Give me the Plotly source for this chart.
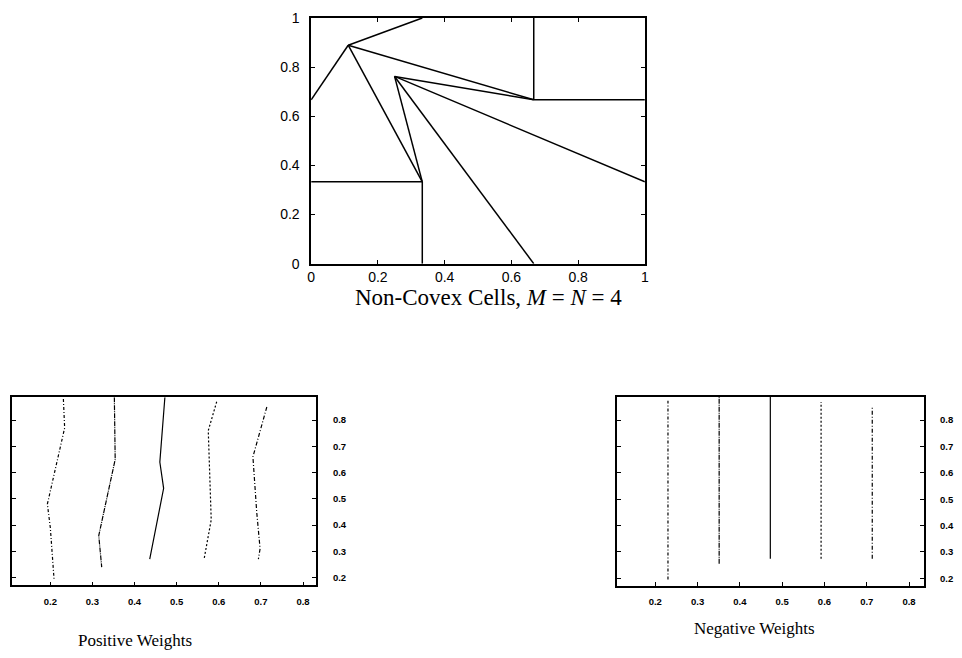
import plotly.graph_objects as go

# ---------------- data ----------------
# Top panel: cell boundary vertices and edges
vert_x = {"a": 0.0, "b": 0.111, "c": 0.333, "d": 0.667, "e": 0.333, "f": 0.25,
          "g": 0.667, "h": 1.0, "i": 0.667, "j": 1.0, "k": 0.0, "l": 0.333}
vert_y = {"a": 0.667, "b": 0.889, "c": 1.0, "d": 0.667, "e": 0.333, "f": 0.762,
          "g": 0.0, "h": 0.333, "i": 1.0, "j": 0.667, "k": 0.333, "l": 0.0}
edges = [("a", "b"), ("b", "c"), ("b", "d"), ("b", "e"), ("f", "d"), ("f", "e"),
         ("f", "g"), ("f", "h"), ("i", "d"), ("d", "j"), ("k", "e"), ("e", "l")]

top_ticks = [0, 0.2, 0.4, 0.6, 0.8, 1]

# Bottom-left: positive weights curves
pos_x = [
    [0.231, 0.234, 0.193, 0.200, 0.209],
    [0.352, 0.354, 0.315, 0.322],
    [0.472, 0.460, 0.469, 0.436],
    [0.595, 0.575, 0.582, 0.565],
    [0.714, 0.681, 0.690, 0.698, 0.694],
]
pos_y = [
    [0.880, 0.770, 0.480, 0.390, 0.190],
    [0.887, 0.650, 0.360, 0.240],
    [0.887, 0.640, 0.540, 0.270],
    [0.870, 0.760, 0.420, 0.270],
    [0.850, 0.660, 0.450, 0.310, 0.270],
]

# Bottom-right: negative weights lines
neg_x = [0.230, 0.351, 0.472, 0.592, 0.713]
neg_top = [0.873, 0.887, 0.887, 0.868, 0.850]
neg_bottom = [0.196, 0.255, 0.274, 0.274, 0.274]

small_ticks = [0.2, 0.3, 0.4, 0.5, 0.6, 0.7, 0.8]
line_dashes = ["3px,2px,1px,2px", "5px,1px,1px,1px", "solid", "2px,2px", "4px,2px,1px,2px"]

# ---------------- figure ----------------
OFF = 8  # default page margin of the html body
W, H = 962 - 2 * OFF, 658 - 2 * OFF
fig = go.Figure()

# Top panel
tx, ty = [], []
for p, q in edges:
    tx += [vert_x[p], vert_x[q], None]
    ty += [vert_y[p], vert_y[q], None]
fig.add_trace(go.Scatter(x=tx, y=ty, mode="lines", line=dict(color="black", width=1.5),
                         xaxis="x", yaxis="y", showlegend=False, hoverinfo="skip"))

# Bottom-left
for xs, ys, dsh in zip(pos_x, pos_y, line_dashes):
    fig.add_trace(go.Scatter(x=xs, y=ys, mode="lines",
                             line=dict(color="black", width=1.2, dash=dsh),
                             xaxis="x2", yaxis="y2", showlegend=False, hoverinfo="skip"))

# Bottom-right
for xv, yt, yb, dsh in zip(neg_x, neg_top, neg_bottom, line_dashes):
    fig.add_trace(go.Scatter(x=[xv, xv], y=[yb, yt], mode="lines",
                             line=dict(color="black", width=1.2, dash=dsh),
                             xaxis="x3", yaxis="y3", showlegend=False, hoverinfo="skip"))

top_font = dict(family="Liberation Sans, Arial", size=14, color="black")
small_font = dict(family="Liberation Sans, Arial", size=9.5, color="black", weight="bold")

common_top = dict(showgrid=False, zeroline=False, showline=True, linecolor="black",
                  linewidth=1.5, mirror="ticks", ticks="inside", ticklen=4,
                  tickcolor="black", tickfont=top_font, tickvals=top_ticks,
                  ticklabeloverflow="allow")
common_small = dict(showgrid=False, zeroline=False, showline=True, linecolor="black",
                    linewidth=1.8, ticks="inside", ticklen=4, tickcolor="black",
                    tickfont=small_font, tickvals=small_ticks,
                    tickformat=".1f", ticklabeloverflow="allow")

def px_x(a, b):
    return [(a - OFF) / W, (b - OFF) / W]

def px_y(top, bottom):
    return [1 - (bottom - OFF) / H, 1 - (top - OFF) / H]

def pt(x, y):
    return (x - OFF) / W, 1 - (y - OFF) / H

fig.update_layout(
    width=W, height=H, autosize=False,
    margin=dict(l=0, r=0, t=0, b=0),
    paper_bgcolor="white", plot_bgcolor="white",
    xaxis=dict(domain=px_x(311, 649), range=[0, 1], anchor="y",
               ticklabelstandoff=0, **common_top),
    yaxis=dict(domain=px_y(10, 262), range=[0, 1], anchor="x",
               ticklabelstandoff=7, **common_top),
    xaxis2=dict(domain=px_x(8, 316), range=[0.109, 0.831], anchor="y2",
                mirror=True, ticklabelstandoff=6, **common_small),
    yaxis2=dict(domain=px_y(399, 592), range=[0.17, 0.887], anchor="x2",
                side="right", mirror="ticks", ticklabelstandoff=13, **common_small),
    xaxis3=dict(domain=px_x(621, 932), range=[0.110, 0.836], anchor="y3",
                mirror=True, ticklabelstandoff=6, **common_small),
    yaxis3=dict(domain=px_y(398.3, 592.3), range=[0.172, 0.889], anchor="x3",
                side="right", mirror="ticks", ticklabelstandoff=12, **common_small),
)

serif = "Liberation Serif, Times New Roman"
captions = [
    ("Non-Covex Cells, <i>M</i> = <i>N</i> = 4", 491, 297, 23),
    ("Positive Weights", 133, 648, 17),
    ("Negative Weights", 760, 636, 17),
]
for text, cx, cy, size in captions:
    px_, py_ = pt(cx, cy)
    fig.add_annotation(text=text, x=px_, y=py_, xref="paper", yref="paper",
                       showarrow=False, font=dict(family=serif, size=size, color="black"),
                       xanchor="center", yanchor="middle")

fig.write_html("out.html")
